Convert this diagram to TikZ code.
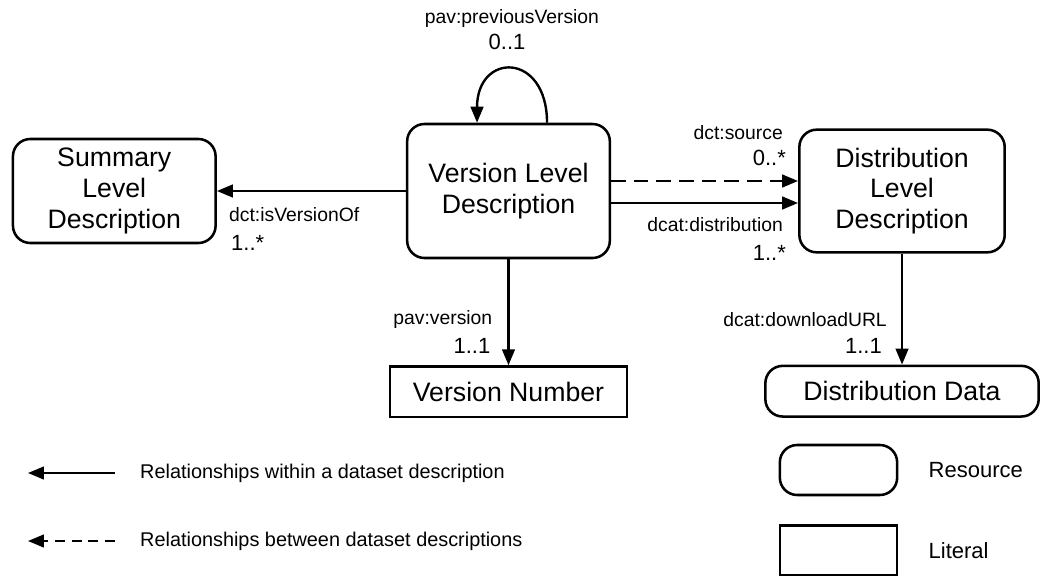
\documentclass[tikz,border=0pt]{standalone}
\usepackage{fontspec}
\setmainfont{Liberation Sans}
\usetikzlibrary{arrows.meta}
\usetikzlibrary{positioning}

\begin{document}
\begin{tikzpicture}
\useasboundingbox (-381.375pt,-288pt) rectangle (400.125pt,143.25pt);

\tikzset{resourcebox/.style={draw=black, line width=1.9pt, rounded corners=13pt, align=center, inner sep=3pt, font=\fontsize{20pt}{23pt}\selectfont},
	literalbox/.style={draw=black, line width=1.9pt, align=center, inner sep=3pt, font=\fontsize{20pt}{23pt}\selectfont},
	rel/.style={line width=1.8pt, -{Triangle[length=12pt,width=9.5pt]}},
	relbetween/.style={rel, dash pattern=on 11pt off 6pt},
	lbl/.style={inner sep=0pt, font=\fontsize{14.5pt}{16pt}\selectfont},
	mult/.style={inner sep=0pt, font=\fontsize{16.5pt}{18pt}\selectfont},
	legendtext/.style={inner sep=0pt, font=\fontsize{14.9pt}{18pt}\selectfont}}

\node[resourcebox, minimum width=152pt, minimum height=100.5pt] (versionlevel) {Version Level\\Description};
\node[resourcebox, minimum width=152pt, minimum height=78pt, left=141.75pt of versionlevel] (summarylevel) {Summary\\Level\\Description};
\node[resourcebox, minimum width=154pt, minimum height=92pt, right=140.25pt of versionlevel] (distributionlevel) {Distribution\\Level\\Description};

\node[literalbox, minimum width=178pt, minimum height=38pt, below=79.5pt of versionlevel] (versionnumber) {Version Number};
\node[resourcebox, minimum width=205pt, minimum height=38pt, below=83.25pt of distributionlevel] (distributiondata) {Distribution Data};

% edge labels
\node[lbl, anchor=west] (isversionof) at ([shift={(9pt,-17.6pt)}]summarylevel.east) {dct:isVersionOf};
\node[mult, anchor=west] (isversionofmult) at ([shift={(10.5pt,-38.6pt)}]summarylevel.east) {1..*};
\node[lbl, anchor=east] (source) at ([shift={(-11.25pt,43.9pt)}]distributionlevel.west) {dct:source};
\node[mult, anchor=east] (sourcemult) at ([shift={(-9pt,25.1pt)}]distributionlevel.west) {0..*};
\node[lbl, anchor=east] (distribution) at ([shift={(-11.25pt,-25.1pt)}]distributionlevel.west) {dcat:distribution};
\node[mult, anchor=east] (distributionmult) at ([shift={(-9pt,-46.1pt)}]distributionlevel.west) {1..*};
\node[lbl, anchor=east] (version) at ([shift={(-12pt,34.5pt)}]versionnumber.north) {pav:version};
\node[mult, anchor=east] (versionmult) at ([shift={(-13.5pt,14.25pt)}]versionnumber.north) {1..1};
\node[lbl, anchor=east] (downloadurl) at ([shift={(-11.25pt,33.75pt)}]distributiondata.north) {dcat:downloadURL};
\node[mult, anchor=east] (downloadurlmult) at ([shift={(-15pt,14.25pt)}]distributiondata.north) {1..1};
\node[lbl] (previousversion) at ([shift={(2.6pt,78pt)}]versionlevel.north) {pav:previousVersion};
\node[mult] (previousversionmult) at ([shift={(-1.1pt,60.75pt)}]versionlevel.north) {0..1};

\draw[rel] (versionlevel.west) -- (versionlevel.west -| summarylevel.east);
\draw[relbetween] ([yshift=7.5pt]versionlevel.east) -- ([yshift=7.5pt]versionlevel.east -| distributionlevel.west);
\draw[rel] ([yshift=-9pt]versionlevel.east) -- ([yshift=-9pt]versionlevel.east -| distributionlevel.west);
\draw[rel] (versionlevel.south) -- (versionnumber.north);
\draw[rel] (distributionlevel.south) -- (distributiondata.north);
\draw[rel] ([xshift=28.9pt]versionlevel.north) to[out=90,in=90,looseness=2.6] ([xshift=-23.6pt]versionlevel.north);

% legend
\node[legendtext, anchor=west] (withintext) at (-276.4pt,-211.5pt) {Relationships within a dataset description};
\node[legendtext, anchor=west] (betweentext) at (-276.4pt,-262.5pt) {Relationships between dataset descriptions};
\coordinate[left=18.75pt of withintext] (withinstart);
\coordinate[left=65.25pt of withinstart] (withinend);
\coordinate[left=18.75pt of betweentext] (betweenstart);
\coordinate[left=65.25pt of betweenstart] (betweenend);
\draw[rel] (withinstart) -- (withinend);
\draw[rel, dash pattern=on 7.5pt off 5pt] (betweenstart) -- (betweenend);

\node[resourcebox, minimum width=88pt, minimum height=37.5pt] (resourcekey) at (247.5pt,-209.25pt) {};
\node[literalbox, minimum width=88pt, minimum height=37.5pt, below=21pt of resourcekey] (literalkey) {};
\node[legendtext, font=\fontsize{16.5pt}{18pt}\selectfont, right=22.5pt of resourcekey] (resourcetext) {Resource};
\node[legendtext, font=\fontsize{16.5pt}{18pt}\selectfont, right=22.5pt of literalkey] (literaltext) {Literal};
\end{tikzpicture}
\end{document}
